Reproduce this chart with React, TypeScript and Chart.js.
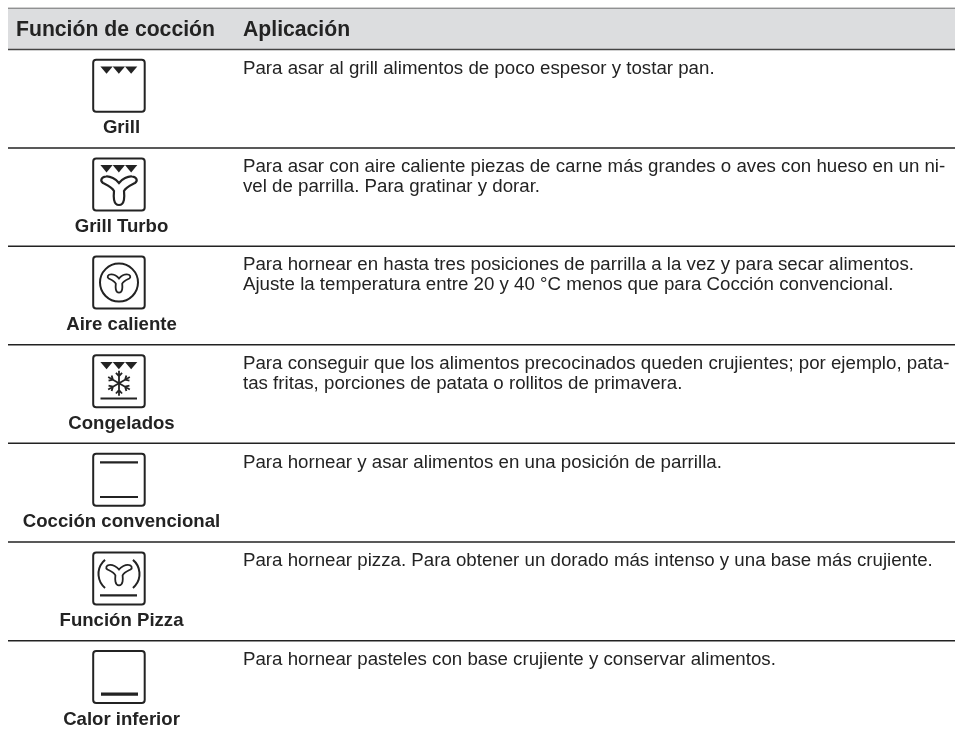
import React, { useEffect, useRef } from "react";
import { Chart, registerables } from "chart.js";

Chart.register(...registerables);

const headerTitles = ["Función de cocción", "Aplicación"];
const functionNames = ["Grill", "Grill Turbo", "Aire caliente", "Congelados", "Cocción convencional", "Función Pizza", "Calor inferior"];
const descriptions = [
  ["Para asar al grill alimentos de poco espesor y tostar pan."],
  ["Para asar con aire caliente piezas de carne más grandes o aves con hueso en un ni-", "vel de parrilla. Para gratinar y dorar."],
  ["Para hornear en hasta tres posiciones de parrilla a la vez y para secar alimentos.", "Ajuste la temperatura entre 20 y 40 °C menos que para Cocción convencional."],
  ["Para conseguir que los alimentos precocinados queden crujientes; por ejemplo, pata-", "tas fritas, porciones de patata o rollitos de primavera."],
  ["Para hornear y asar alimentos en una posición de parrilla."],
  ["Para hornear pizza. Para obtener un dorado más intenso y una base más crujiente."],
  ["Para hornear pasteles con base crujiente y conservar alimentos."],
];
const rowRules = [148, 246.2, 344.8, 443.3, 542, 640.7];
const rowTops = [49.4, 148, 246.2, 344.8, 443.3, 542, 640.7];
const iconKinds = ["grill", "turbo", "aire", "frozen", "conv", "pizza", "bottom"];

const pageW = 955;
const pageH = 737;
const ink = "#232323";

const fanStart = [0, -4];
const fanCurves = [
  [-3, -8, -9, -11, -13, -10.5],
  [-18, -10, -19, -6, -16, -4],
  [-12, -2, -7, 0, -5, 4],
  [-5.5, 9, -6, 18, 0, 18],
  [6, 18, 5.5, 9, 5, 4],
  [7, 0, 12, -2, 16, -4],
  [19, -6, 18, -10, 13, -10.5],
  [9, -11, 3, -8, 0, -4],
];

function drawFan(ctx: CanvasRenderingContext2D, cx: number, cy: number, k: number, lw: number) {
  ctx.lineWidth = lw;
  ctx.beginPath();
  ctx.moveTo(cx + fanStart[0] * k, cy + fanStart[1] * k);
  for (const c of fanCurves) {
    ctx.bezierCurveTo(cx + c[0] * k, cy + c[1] * k, cx + c[2] * k, cy + c[3] * k, cx + c[4] * k, cy + c[5] * k);
  }
  ctx.closePath();
  ctx.stroke();
}

function hline(ctx: CanvasRenderingContext2D, x0: number, x1: number, y: number, lw: number) {
  ctx.lineWidth = lw;
  ctx.beginPath();
  ctx.moveTo(x0, y);
  ctx.lineTo(x1, y);
  ctx.stroke();
}

function drawTriangles(ctx: CanvasRenderingContext2D, top: number) {
  for (let i = 0; i < 3; i++) {
    const x = 100.4 + i * 12.3;
    ctx.beginPath();
    ctx.moveTo(x, top);
    ctx.lineTo(x + 12.3, top);
    ctx.lineTo(x + 6.15, top + 7.3);
    ctx.closePath();
    ctx.fill();
  }
}

function drawIcon(ctx: CanvasRenderingContext2D, kind: string, y0: number) {
  const cx = 119;
  ctx.strokeStyle = ink;
  ctx.fillStyle = ink;
  ctx.lineWidth = 2;
  ctx.beginPath();
  ctx.roundRect(93.2, y0, 51.5, 52, 3);
  ctx.stroke();
  if (kind === "grill" || kind === "turbo" || kind === "frozen") drawTriangles(ctx, y0 + 6.7);
  if (kind === "turbo") drawFan(ctx, cx, y0 + 28.6, 1, 2.2);
  if (kind === "aire") {
    ctx.lineWidth = 2;
    ctx.beginPath();
    ctx.arc(cx, y0 + 26, 19, 0, Math.PI * 2);
    ctx.stroke();
    drawFan(ctx, cx, y0 + 24.5, 0.64, 1.8);
  }
  if (kind === "frozen") {
    const c = y0 + 28;
    ctx.lineWidth = 1.8;
    for (let i = 0; i < 6; i++) {
      const a = (i * Math.PI) / 3 + Math.PI / 2;
      const ux = Math.cos(a), uy = Math.sin(a);
      ctx.beginPath();
      ctx.moveTo(cx, c);
      ctx.lineTo(cx + ux * 12.5, c + uy * 12.5);
      for (const s of [-1, 1]) {
        const b = a + s * 0.75;
        ctx.moveTo(cx + ux * 7, c + uy * 7);
        ctx.lineTo(cx + ux * 7 + Math.cos(b) * 4.5, c + uy * 7 + Math.sin(b) * 4.5);
      }
      ctx.stroke();
    }
    hline(ctx, 100.5, 137, y0 + 43.3, 2);
  }
  if (kind === "conv") {
    hline(ctx, 100, 138, y0 + 8.7, 2.2);
    hline(ctx, 100, 138, y0 + 43.3, 2.2);
  }
  if (kind === "pizza") {
    drawFan(ctx, cx, y0 + 20, 0.72, 1.8);
    ctx.lineWidth = 2;
    const yc = y0 + 21.5;
    ctx.beginPath();
    ctx.arc(116.8, yc, 18.3, Math.PI * 0.722, Math.PI * 1.278);
    ctx.stroke();
    ctx.beginPath();
    ctx.arc(121.2, yc, 18.3, -Math.PI * 0.278, Math.PI * 0.278);
    ctx.stroke();
    hline(ctx, 100, 137, y0 + 43, 2.4);
  }
  if (kind === "bottom") hline(ctx, 101, 138, y0 + 43, 3.4);
}

const tablePlugin = {
  id: "tableText",
  afterDatasetsDraw(chart: any) {
    const { ctx } = chart;
    const X = (v: number) => chart.scales.x.getPixelForValue(v);
    const Y = (v: number) => chart.scales.y.getPixelForValue(v);
    ctx.save();
    ctx.fillStyle = ink;
    ctx.textBaseline = "alphabetic";
    ctx.textAlign = "left";
    ctx.font = 'bold 21.2px "Liberation Sans"';
    ctx.fillText(headerTitles[0], X(16), Y(36));
    ctx.fillText(headerTitles[1], X(243), Y(36));
    functionNames.forEach((name, i) => {
      const top = rowTops[i];
      drawIcon(ctx, iconKinds[i], Y(top + 10.4));
      ctx.fillStyle = ink;
      ctx.textAlign = "center";
      ctx.font = 'bold 18.6px "Liberation Sans"';
      ctx.fillText(name, X(121.5), Y(top + 84));
      ctx.textAlign = "left";
      ctx.font = '18.7px "Liberation Sans"';
      descriptions[i].forEach((line, j) => {
        ctx.fillText(line, X(243), Y(top + 24.2 + j * 19.8));
      });
    });
    ctx.restore();
  },
};

export default function App() {
  const ref = useRef<HTMLCanvasElement>(null);
  useEffect(() => {
    const ruleSets = rowRules.map((y) => ({
      data: [{ x: 8, y }, { x: pageW, y }],
      showLine: true,
      borderColor: "#222222",
      borderWidth: 1.5,
      pointRadius: 0,
    }));
    const chart = new Chart(ref.current as HTMLCanvasElement, {
      type: "scatter",
      data: {
        datasets: [
          {
            data: [{ x: 8, y: 49.4 }, { x: pageW, y: 49.4 }],
            showLine: true,
            borderColor: "#444444",
            borderWidth: 1.5,
            pointRadius: 0,
            fill: { value: 8.5 },
            backgroundColor: "#dcdddf",
          },
          {
            data: [{ x: 8, y: 8.5 }, { x: pageW, y: 8.5 }],
            showLine: true,
            borderColor: "#444444",
            borderWidth: 1.5,
            pointRadius: 0,
          },
          ...ruleSets,
        ],
      },
      options: {
        responsive: false,
        animation: false,
        layout: { padding: 0 },
        plugins: { legend: { display: false }, tooltip: { enabled: false } },
        scales: {
          x: { type: "linear", display: false, min: 0, max: pageW },
          y: { type: "linear", display: false, min: 0, max: pageH, reverse: true },
        },
      },
      plugins: [tablePlugin],
    } as any);
    return () => chart.destroy();
  }, []);
  return (
    <div style={{ position: "absolute", left: 0, top: 0, width: pageW, height: pageH, background: "#fff", overflow: "hidden" }}>
      <canvas ref={ref} width={pageW} height={pageH} style={{ display: "block" }} />
    </div>
  );
}
